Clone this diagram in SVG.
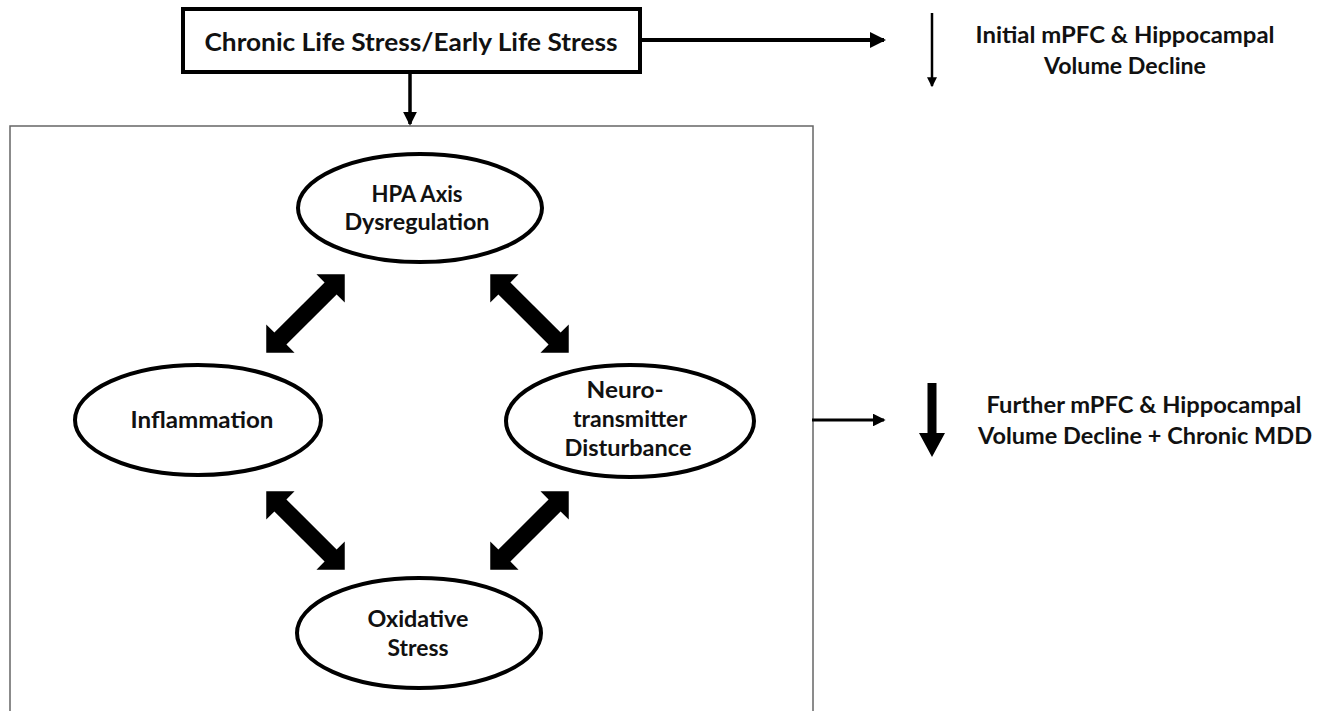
<svg xmlns="http://www.w3.org/2000/svg" width="1334" height="711" viewBox="0 0 1334 711">
<style>
text{font-family:Lato,"Open Sans","Liberation Sans",sans-serif;font-weight:700;fill:#111;text-anchor:middle}
.n{font-size:23px}
.r{font-size:22px}
.node{fill:#fff;stroke:#000;stroke-width:4}
.ln{stroke:#000;fill:none}
.fat{fill:#000}
</style>
<defs>
<marker id="ah" markerWidth="4" markerHeight="4" refX="3.5" refY="2" orient="auto" markerUnits="strokeWidth" viewBox="0 0 4 4"><path d="M0,0 L4,2 L0,4 Z" fill="#000"/></marker>
<path id="dbl" d="M-55.5,0 L-35.5,-20 L-35.5,-8.5 L35.5,-8.5 L35.5,-20 L55.5,0 L35.5,20 L35.5,8.5 L-35.5,8.5 L-35.5,20 Z"/>
</defs>
<rect id="frame" x="10" y="126" width="803" height="600" fill="none" stroke="#666" stroke-width="1.5"/>
<g id="connectors">
<line class="ln" x1="640" y1="40" x2="884" y2="40" stroke-width="4" marker-end="url(#ah)"/>
<line class="ln" x1="410" y1="72" x2="410" y2="124" stroke-width="3.5" marker-end="url(#ah)"/>
<line class="ln" x1="812" y1="420" x2="884" y2="420" stroke-width="3.2" marker-end="url(#ah)"/>
<line class="ln" x1="932" y1="13" x2="932" y2="86" stroke-width="2.5" marker-end="url(#ah)"/>
<path class="fat" d="M927.5,383 L936.5,383 L936.5,433 L945,433 L932,457 L919,433 L927.5,433 Z"/>
<use href="#dbl" class="fat" transform="translate(305.5,313.5) rotate(-45)"/>
<use href="#dbl" class="fat" transform="translate(529.5,313.5) rotate(45)"/>
<use href="#dbl" class="fat" transform="translate(305.5,530.5) rotate(45)"/>
<use href="#dbl" class="fat" transform="translate(529.5,530.5) rotate(-45)"/>
</g>
<g id="chronic-stress">
<rect x="183" y="9" width="457" height="63" fill="#fff" stroke="#000" stroke-width="4"/>
<text x="411" y="51" font-size="25" textLength="413" lengthAdjust="spacingAndGlyphs">Chronic Life Stress/Early Life Stress</text>
</g>
<g id="initial-decline">
<text class="r" x="1125" y="43" textLength="299" lengthAdjust="spacingAndGlyphs">Initial mPFC &amp; Hippocampal</text>
<text class="r" x="1125" y="74" textLength="162" lengthAdjust="spacingAndGlyphs">Volume Decline</text>
</g>
<g id="hpa">
<ellipse class="node" cx="420" cy="208" rx="122" ry="54"/>
<text class="n" x="417" y="202" textLength="91" lengthAdjust="spacingAndGlyphs">HPA Axis</text>
<text class="n" x="417" y="230" textLength="145" lengthAdjust="spacingAndGlyphs">Dysregulation</text>
</g>
<g id="inflammation">
<ellipse class="node" cx="198" cy="420" rx="123" ry="55"/>
<text class="n" x="202" y="428" textLength="143" lengthAdjust="spacingAndGlyphs">Inflammation</text>
</g>
<g id="neurotransmitter">
<ellipse class="node" cx="630" cy="421" rx="124" ry="56"/>
<text class="n" x="625" y="398" textLength="77" lengthAdjust="spacingAndGlyphs">Neuro-</text>
<text class="n" x="630" y="427" textLength="114" lengthAdjust="spacingAndGlyphs">transmitter</text>
<text class="n" x="628" y="456" textLength="127" lengthAdjust="spacingAndGlyphs">Disturbance</text>
</g>
<g id="oxidative">
<ellipse class="node" cx="419" cy="633" rx="122" ry="55"/>
<text class="n" x="418" y="627" textLength="101" lengthAdjust="spacingAndGlyphs">Oxidative</text>
<text class="n" x="418" y="656" textLength="61" lengthAdjust="spacingAndGlyphs">Stress</text>
</g>
<g id="further-decline">
<text class="r" x="1144" y="413" textLength="315" lengthAdjust="spacingAndGlyphs">Further mPFC &amp; Hippocampal</text>
<text class="r" x="1145" y="444" textLength="334" lengthAdjust="spacingAndGlyphs">Volume Decline + Chronic MDD</text>
</g>
</svg>
